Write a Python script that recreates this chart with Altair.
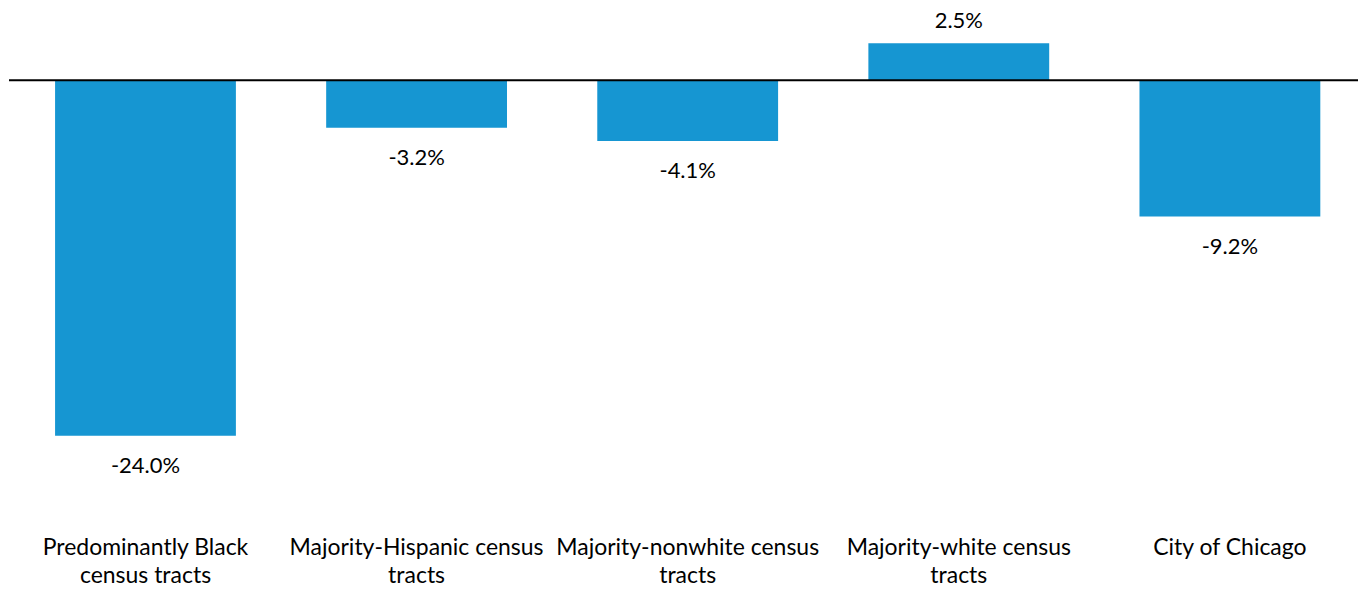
import altair as alt
import pandas as pd

categories = [
    "Predominantly Black|census tracts",
    "Majority-Hispanic census|tracts",
    "Majority-nonwhite census|tracts",
    "Majority-white census|tracts",
    "City of Chicago",
]
values = [-24.0, -3.2, -4.1, 2.5, -9.2]
value_labels = ["-24.0%", "-3.2%", "-4.1%", "2.5%", "-9.2%"]

df = pd.DataFrame({"cat": categories, "val": values, "lab": value_labels})
neg_df = df[df["val"] < 0].reset_index(drop=True)
pos_df = df[df["val"] >= 0].reset_index(drop=True)
zero_df = pd.DataFrame({"z": [0.0]})

FONT = "Lato"
BLUE = "#1696d2"

xscale = alt.Scale(domain=categories, paddingInner=0.333, paddingOuter=0.1545, align=0.55)
yscale = alt.Scale(domain=[-34.11, 4.854], nice=False, zero=False)

x = alt.X("cat:N", sort=None, scale=xscale, axis=None)
y = alt.Y("val:Q", scale=yscale, axis=None)

bars = alt.Chart(df).mark_bar(color=BLUE).encode(x=x, y=y)

zero = alt.Chart(zero_df).mark_rule(color="#000000", strokeWidth=2).encode(
    y=alt.Y("z:Q", scale=yscale, axis=None)
)

neg_text = alt.Chart(neg_df).mark_text(
    font=FONT, fontSize=22, color="#000000", baseline="middle", dy=30
).encode(x=x, y=y, text="lab:N")

pos_text = alt.Chart(pos_df).mark_text(
    font=FONT, fontSize=22, color="#000000", baseline="middle", dy=-22
).encode(x=x, y=y, text="lab:N")

cat_text = alt.Chart(df).mark_text(
    font=FONT, fontSize=23, color="#000000", baseline="top", align="center",
    lineBreak="|", lineHeight=28
).encode(x=x, y=alt.value(529), text="cat:N")

chart = (
    alt.layer(bars, zero, neg_text, pos_text, cat_text)
    .properties(width=1351, height=578, padding=0)
    .configure_view(strokeWidth=0)
)

chart.save("out.html", embed_options={"renderer": "svg", "actions": False})
